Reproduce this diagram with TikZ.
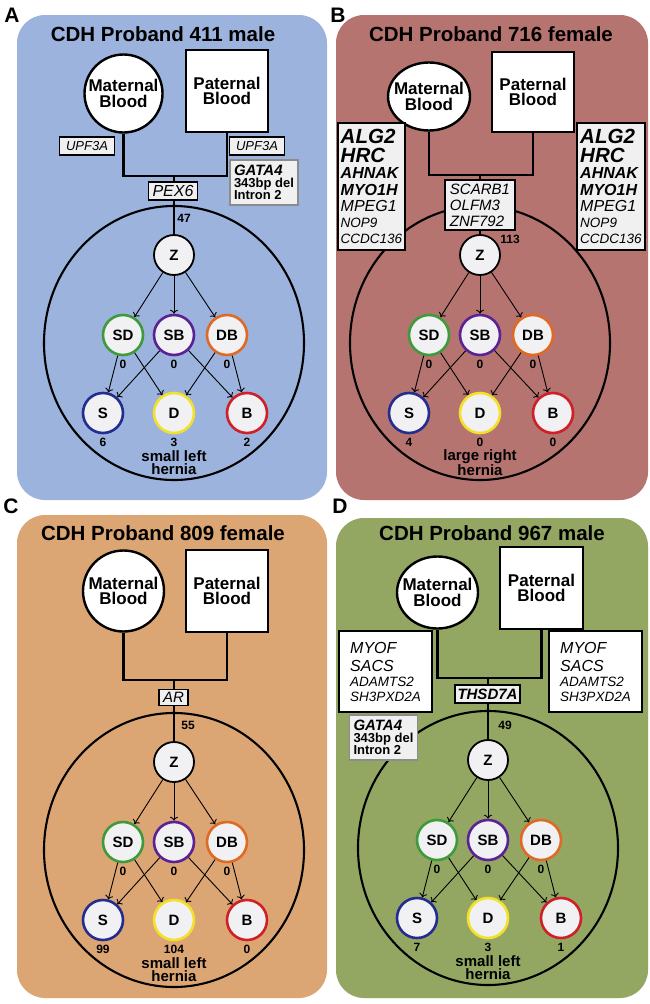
\documentclass[tikz,border=0pt]{standalone}
\usepackage{fontspec}
\setmainfont{Liberation Sans}
\usetikzlibrary{arrows.meta,shapes.geometric}

\definecolor{panelA}{HTML}{9CB3DD}
\definecolor{panelB}{HTML}{B57470}
\definecolor{panelC}{HTML}{DCA674}
\definecolor{panelD}{HTML}{93A763}
\definecolor{nodefill}{HTML}{F1F1F4}
\definecolor{genebox}{HTML}{F0F0F0}
\definecolor{delgray}{HTML}{8C8C8C}
\definecolor{sdgreen}{HTML}{3E9A3A}
\definecolor{sbpurple}{HTML}{5A2294}
\definecolor{dborange}{HTML}{DE6A25}
\definecolor{sblue}{HTML}{232C8F}
\definecolor{dyellow}{HTML}{F2E02A}
\definecolor{bred}{HTML}{CF2027}

\newcommand{\gbig}{\fontsize{20.5}{19}\selectfont\bfseries\itshape}
\newcommand{\gmid}{\fontsize{16}{16.5}\selectfont\bfseries\itshape}
\newcommand{\gplain}{\fontsize{16}{16.5}\selectfont\mdseries\itshape}
\newcommand{\gsmall}{\fontsize{13.5}{15}\selectfont\mdseries\itshape}
\newcommand{\dsmall}{\fontsize{13}{12}\selectfont\bfseries\upshape}

\tikzset{
  panel/.style={rounded corners=28pt},
  tag/.style={font=\fontsize{21}{21}\selectfont\bfseries},
  heading/.style={anchor=base, font=\fontsize{20.5}{22}\selectfont\bfseries},
  parent/.style={draw, line width=2.4pt, fill=white, inner sep=0pt, align=center,
    font=\fontsize{17}{15.5}\selectfont\bfseries},
  mom/.style={parent, ellipse, inner sep=-10pt},
  dad/.style={parent, rectangle},
  pedline/.style={line width=2.2pt},
  gene/.style={draw, line width=1.3pt, fill=genebox, inner sep=2pt,
    font=\fontsize{13}{14}\selectfont\itshape},
  genelist/.style={draw, line width=1.3pt, fill=genebox, align=left, inner sep=2pt},
  delbox/.style={draw=delgray, line width=1.6pt, fill=genebox, align=left,
    minimum width=68pt, minimum height=45pt, inner sep=2pt,
    font=\fontsize{13}{12}\selectfont},
  cnt/.style={font=\fontsize{12}{12}\selectfont\bfseries},
  zyg/.style={circle, draw, line width=1.8pt, fill=nodefill, minimum size=40pt,
    inner sep=0pt, font=\fontsize{15}{15}\selectfont\bfseries},
  emb/.style={zyg, draw=#1, line width=2.6pt},
  arr/.style={-{To[length=4pt,width=8pt]}, line width=0.9pt},
  hern/.style={align=center, font=\fontsize{15}{13}\selectfont\bfseries},
  ring/.style={line width=2.1pt}
}

% embryo tree: #1 S count, #2 D count, #3 B count, #4 hernia note
\newcommand{\embryotree}[4]{
  \draw[ring] (0,88) ellipse [x radius=130pt, y radius=137pt];
  \node[zyg] (z) at (0,0) {Z};
  \node[emb=sdgreen, label={[cnt]below:0}] (sd) at (-51,80) {SD};
  \node[emb=sbpurple, label={[cnt]below:0}] (sb) at (0,80) {SB};
  \node[emb=dborange, label={[cnt]below:0}] (db) at (53,80) {DB};
  \node[emb=sblue, label={[cnt]below:#1}] (s) at (-71,158) {S};
  \node[emb=dyellow, label={[cnt]below:#2}] (d) at (0,158) {D};
  \node[emb=bred, label={[cnt]below:#3}] (b) at (73,158) {B};
  \foreach \kid in {sd,sb,db} \draw[arr] (z) -- (\kid);
  \draw[arr] (sd) -- (s);
  \draw[arr] (sd) -- (d);
  \draw[arr] (sb) -- (s);
  \draw[arr] (sb) -- (b);
  \draw[arr] (db) -- (d);
  \draw[arr] (db) -- (b);
  \node[hern] (h) at (0,208) {#4};
}

\begin{document}
\begin{tikzpicture}[x=1pt, y=-1pt]
  \useasboundingbox (0,0) rectangle (650,1004);
  \fill[white] (0,0) rectangle (650,1004);

  % panel A
  \fill[panelA, panel] (17,15) rectangle (327,500);
  \node[tag] (la) at (12,15) {A};
  \node[heading] (ta) at (163,41) {CDH Proband 411 male};
  \node[mom, minimum width=78pt, minimum height=78pt] (ma) at (123.5,93.5) {Maternal\\Blood};
  \node[dad, minimum width=82pt, minimum height=82pt] (fa) at (227,91) {Paternal\\Blood};
  \begin{scope}[shift={(174,255)}, name prefix=a-]
    \embryotree{6}{3}{2}{small left\\hernia}
  \end{scope}
  \coordinate (ja) at (174,176);
  \draw[pedline] (ma.south) |- (ja);
  \draw[pedline] (fa.south) |- (ja);
  \draw[pedline] (ja) -- (a-z);
  \node[gene, minimum width=55pt, minimum height=18pt] (ua) at (87,146) {UPF3A};
  \node[gene, minimum width=55pt, minimum height=18pt] (ub) at (257,146) {UPF3A};
  \node[delbox] (ga) at (264,182.5) {{\fontsize{15}{14}\selectfont\bfseries\itshape GATA4}\\\dsmall 343bp del\\\dsmall Intron 2};
  \node[gene, minimum width=49pt, minimum height=18pt, font=\fontsize{16}{16}\selectfont\itshape] (pa) at (173,191) {PEX6};
  \node[cnt] (na) at (184,218) {47};

  % panel B
  \fill[panelB, panel] (336,15) rectangle (648,500);
  \node[tag] (lb) at (338,15) {B};
  \node[heading] (tb) at (491,41) {CDH Proband 716 female};
  \node[mom, minimum width=82pt, minimum height=68pt] (mb) at (429,96.5) {Maternal\\Blood};
  \node[dad, minimum width=82pt, minimum height=80pt] (fb) at (533,92) {Paternal\\Blood};
  \begin{scope}[shift={(480,255)}, name prefix=b-]
    \embryotree{4}{0}{0}{large right\\hernia}
  \end{scope}
  \coordinate (jb) at (480,175);
  \draw[pedline] (mb.south) |- (jb);
  \draw[pedline] (fb.south) |- (jb);
  \draw[pedline] (jb) -- (b-z);
  \node[genelist, minimum width=67pt, minimum height=127pt, font=\fontsize{16}{16.5}\selectfont] (gl) at (371.5,186.5)
    {\gbig ALG2\\[2.5pt]\gbig HRC\\\gmid AHNAK\\\gmid MYO1H\\\gplain MPEG1\\[-1pt]\gsmall NOP9\\\gsmall CCDC136};
  \node[genelist, minimum width=68pt, minimum height=127pt, font=\fontsize{16}{16.5}\selectfont] (gr) at (611,186.5)
    {\gbig ALG2\\[2.5pt]\gbig HRC\\\gmid AHNAK\\\gmid MYO1H\\\gplain MPEG1\\[-1pt]\gsmall NOP9\\\gsmall CCDC136};
  \node[genelist, minimum width=70pt, minimum height=50pt,
    font=\fontsize{15}{16}\selectfont\itshape] (pb) at (480,205) {SCARB1\\OLFM3\\ZNF792};
  \node[cnt] (nb) at (510,239) {113};

  % panel C
  \fill[panelC, panel] (17,515) rectangle (327,998);
  \node[tag] (lc) at (11,506) {C};
  \node[heading] (tc) at (163,540) {CDH Proband 809 female};
  \node[mom, minimum width=81pt, minimum height=81pt] (mc) at (123.5,591) {Maternal\\Blood};
  \node[dad, minimum width=82pt, minimum height=82pt] (fc) at (227,591) {Paternal\\Blood};
  \begin{scope}[shift={(174,762)}, name prefix=c-]
    \embryotree{99}{104}{0}{small left\\hernia}
  \end{scope}
  \coordinate (jc) at (174,680);
  \draw[pedline] (mc.south) |- (jc);
  \draw[pedline] (fc.south) |- (jc);
  \draw[pedline] (jc) -- (c-z);
  \node[gene, minimum width=29pt, minimum height=16pt, font=\fontsize{15}{15}\selectfont\itshape] (pc) at (173.5,697.5) {AR};
  \node[cnt] (nc) at (188,725) {55};

  % panel D
  \fill[panelD, panel] (336,518) rectangle (648,998);
  \node[tag] (ld) at (340,506) {D};
  \node[heading] (td) at (492,540) {CDH Proband 967 male};
  \node[mom, minimum width=81pt, minimum height=72pt] (md) at (437.5,592.5) {Maternal\\Blood};
  \node[dad, minimum width=83pt, minimum height=82pt] (fd) at (541.5,588) {Paternal\\Blood};
  \begin{scope}[shift={(488,760)}, name prefix=d-]
    \embryotree{7}{3}{1}{small left\\hernia}
  \end{scope}
  \coordinate (jd) at (488,678);
  \draw[pedline] (md.south) |- (jd);
  \draw[pedline] (fd.south) |- (jd);
  \draw[pedline] (jd) -- (d-z);
  \node[genelist, fill=white, minimum width=93pt, minimum height=81pt, font=\fontsize{15}{15}\selectfont] (dl) at (385.5,671.5)
    {\gplain MYOF\\[3pt]\gplain SACS\\\gsmall ADAMTS2\\\gsmall SH3PXD2A};
  \node[genelist, fill=white, minimum width=93pt, minimum height=81pt, font=\fontsize{15}{15}\selectfont] (dr) at (595.5,671.5)
    {\gplain MYOF\\[3pt]\gplain SACS\\\gsmall ADAMTS2\\\gsmall SH3PXD2A};
  \node[gene, minimum width=65pt, minimum height=18pt, font=\fontsize{15}{15}\selectfont\bfseries\itshape] (pd) at (487.5,694) {THSD7A};
  \node[delbox] (gd) at (383.5,737.5) {{\fontsize{15}{14}\selectfont\bfseries\itshape GATA4}\\\dsmall 343bp del\\\dsmall Intron 2};
  \node[cnt] (nd) at (505,725) {49};
\end{tikzpicture}
\end{document}
